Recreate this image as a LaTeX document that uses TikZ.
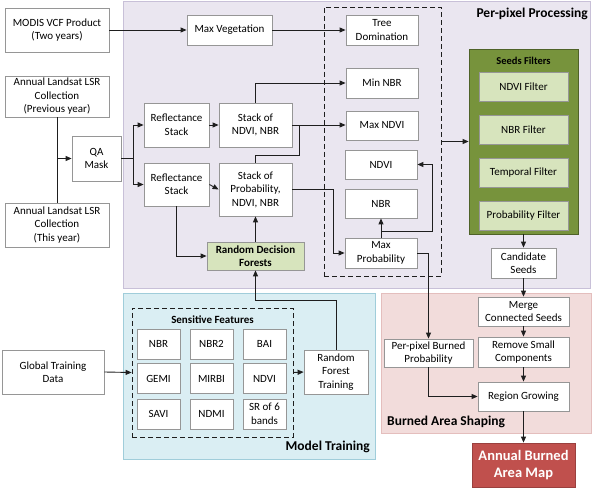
\documentclass[tikz,border=0pt]{standalone}
\usepackage{fontspec}
\setmainfont{Carlito}
\usetikzlibrary{arrows.meta}
\definecolor{ppfill}{RGB}{234,230,240}
\definecolor{ppdraw}{RGB}{200,192,216}
\definecolor{mtfill}{RGB}{218,238,243}
\definecolor{mtdraw}{RGB}{160,205,218}
\definecolor{bsfill}{RGB}{242,220,219}
\definecolor{bsdraw}{RGB}{228,190,189}
\definecolor{sfgreen}{RGB}{119,147,60}
\definecolor{sfdraw}{RGB}{79,98,40}
\definecolor{lgreen}{RGB}{215,228,189}
\definecolor{boxgray}{RGB}{150,150,150}
\definecolor{mapred}{RGB}{192,80,77}
\definecolor{linec}{RGB}{30,30,30}
\tikzset{
  txt/.style={font=\fontsize{11}{13.5}\selectfont},
  wbox/.style={draw=boxgray, fill=white, line width=0.8pt, inner sep=0pt, align=center, txt},
  gbox/.style={wbox, fill=lgreen},
  panel/.style={line width=0.8pt},
  dbox/.style={draw=linec, dashed, dash pattern=on 5pt off 3pt, line width=0.8pt, inner sep=0pt},
  arr/.style={draw=linec, line width=0.9pt, -{Triangle[length=6pt,width=5pt]}},
  ln/.style={draw=linec, line width=0.9pt},
  ptitle/.style={font=\fontsize{13.5}{15}\selectfont\bfseries, inner sep=0pt},
}
\begin{document}
\begin{tikzpicture}[x=1pt,y=-1pt]
\useasboundingbox (0,0) rectangle (592,489);
% panels
\draw[panel, fill=ppfill, draw=ppdraw] (123,1) rectangle (590,288);
\draw[panel, fill=mtfill, draw=mtdraw] (123,293) rectangle (375,459);
\draw[panel, fill=bsfill, draw=bsdraw] (381,293) rectangle (591,433);
\node[ptitle, anchor=east] (tpp) at (588,14) {Per-pixel Processing};
\node[ptitle, anchor=east] (tmt) at (370,447) {Model Training};
\node[ptitle, anchor=west] (tbs) at (387,422) {Burned Area Shaping};
% dashed groups
\node[dbox, minimum width=117pt, minimum height=269pt] (pp) at (382.5,141.5) {};
\node[dbox, minimum width=161pt, minimum height=129pt] (sens) at (212.5,372.5) {};
\node[font=\fontsize{11}{12}\selectfont\bfseries, inner sep=0pt] (senst) at (212.5,320) {Sensitive Features};
% left inputs
\node[wbox, minimum width=104pt, minimum height=44pt] (modis) at (57,30) {MODIS VCF Product\\(Two years)};
\node[wbox, minimum width=104pt, minimum height=41pt] (prev) at (57,96.5) {Annual Landsat LSR\\Collection\\(Previous year)};
\node[wbox, minimum width=49pt, minimum height=45pt] (qa) at (96.5,158.5) {QA\\Mask};
\node[wbox, minimum width=104pt, minimum height=44pt] (this) at (57,225) {Annual Landsat LSR\\Collection\\(This year)};
\node[wbox, minimum width=102pt, minimum height=44pt] (glob) at (53,372) {Global Training\\Data};
% per-pixel processing
\node[wbox, minimum width=85pt, minimum height=30pt] (maxveg) at (229.5,30) {Max Vegetation};
\node[wbox, minimum width=65pt, minimum height=44pt] (refl1) at (176.5,125) {Reflectance\\Stack};
\node[wbox, minimum width=73pt, minimum height=44pt] (stnn) at (255.5,125) {Stack of\\NDVI, NBR};
\node[wbox, minimum width=65pt, minimum height=43pt] (refl2) at (176.5,184.5) {Reflectance\\Stack};
\node[wbox, minimum width=73pt, minimum height=53pt] (stp) at (255.5,189.5) {Stack of\\Probability,\\NDVI, NBR};
\node[gbox, minimum width=97pt, minimum height=28pt, font=\fontsize{11}{13}\selectfont\bfseries] (rdf) at (255.5,256) {Random Decision\\Forests};
\node[wbox, minimum width=72pt, minimum height=30pt] (tree) at (382,30) {Tree\\Domination};
\node[wbox, minimum width=72pt, minimum height=30pt] (minnbr) at (382,83) {Min NBR};
\node[wbox, minimum width=72pt, minimum height=29pt] (maxndvi) at (382,125.5) {Max NDVI};
\node[wbox, minimum width=72pt, minimum height=29pt] (ndvi) at (381,164.5) {NDVI};
\node[wbox, minimum width=72pt, minimum height=29pt] (nbr) at (381,203.5) {NBR};
\node[wbox, minimum width=72pt, minimum height=30pt] (maxp) at (381,253) {Max\\Probability};
% seeds filters
\node[draw=sfdraw, fill=sfgreen, line width=0.8pt, minimum width=109pt, minimum height=185pt, inner sep=0pt] (seeds) at (523.5,141.5) {};
\node[font=\fontsize{10.5}{12}\selectfont\bfseries, inner sep=0pt] (seedst) at (523.5,61) {Seeds Filters};
\node[gbox, minimum width=89pt, minimum height=29pt] (f1) at (523.5,86.5) {NDVI Filter};
\node[gbox, minimum width=89pt, minimum height=29pt] (f2) at (523.5,129.5) {NBR Filter};
\node[gbox, minimum width=89pt, minimum height=29pt] (f3) at (523.5,172.5) {Temporal Filter};
\node[gbox, minimum width=89pt, minimum height=29pt] (f4) at (523.5,215.5) {Probability Filter};
\node[wbox, minimum width=65pt, minimum height=30pt] (cand) at (523.5,263) {Candidate\\Seeds};
% burned area shaping
\node[wbox, minimum width=91pt, minimum height=29pt] (merge) at (523.5,311.5) {Merge\\Connected Seeds};
\node[wbox, minimum width=91pt, minimum height=30pt] (remove) at (523.5,352) {Remove Small\\Components};
\node[wbox, minimum width=91pt, minimum height=29pt] (grow) at (523.5,396.5) {Region Growing};
\node[wbox, minimum width=89pt, minimum height=28pt] (perpix) at (428.5,353) {Per-pixel Burned\\Probability};
\node[draw=mapred!80!black, fill=mapred, line width=0.8pt, text=white, align=center, minimum width=103pt, minimum height=44pt, inner sep=0pt, font=\fontsize{14.5}{17}\selectfont\bfseries] (map) at (523.5,465) {Annual Burned\\Area Map};
% model training
\node[wbox, minimum width=43pt, minimum height=30pt] (s1) at (158.5,344) {NBR};
\node[wbox, minimum width=43pt, minimum height=30pt] (s2) at (211.5,344) {NBR2};
\node[wbox, minimum width=43pt, minimum height=30pt] (s3) at (264.5,344) {BAI};
\node[wbox, minimum width=43pt, minimum height=30pt] (s4) at (158.5,378.5) {GEMI};
\node[wbox, minimum width=43pt, minimum height=30pt] (s5) at (211.5,378.5) {MIRBI};
\node[wbox, minimum width=43pt, minimum height=30pt] (s6) at (264.5,378.5) {NDVI};
\node[wbox, minimum width=43pt, minimum height=30pt] (s7) at (158.5,414) {SAVI};
\node[wbox, minimum width=43pt, minimum height=30pt] (s8) at (211.5,414) {NDMI};
\node[wbox, minimum width=43pt, minimum height=30pt] (s9) at (264.5,414) {SR of 6\\bands};
\node[wbox, minimum width=64pt, minimum height=44pt] (rft) at (336,372) {Random\\Forest\\Training};
% connectors
\draw[arr] (modis.east) -- (maxveg.west);
\draw[arr] (maxveg.east) -- (tree.west);
\draw[ln] (prev.south) -- (this.north);
\draw[arr] (prev.south |- qa.west) -- (qa.west);
\coordinate (qs) at (133,158.5);
\draw[ln] (qa.east) -- (qs);
\draw[arr] (qs) |- (refl1.west);
\draw[arr] (qs) |- (refl2.west);
\draw[arr] (refl1.east) -- (stnn.west);
\draw[arr] (refl2.east) -- (stp.west);
\draw[arr] (stnn.north) |- (minnbr.west);
\draw[arr] (stnn.east) -- (stnn.east -| maxndvi.west);
\coordinate (j1) at (299,125);
\draw[ln] (stp.north) -- (255.5,155) -| (j1);
\draw[arr] (stp.east) -- (333,189.5) |- (maxp.west);
\draw[arr] (maxp.north) -- (nbr.south);
\draw[arr] (381,231) -| (432,164.5) -- (ndvi.east);
\draw[arr] (maxp.east) -| (perpix.north);
\draw[arr] (refl2.south) |- (rdf.west);
\draw[arr] (rdf.north) -- (stp.south);
\draw[arr] (rft.north) -- (336,300) -| (rdf.south);
\draw[arr] (glob.east) -- (sens.west);
\draw[arr] (sens.east) -- (rft.west);
\draw[arr] (pp.east) -- (seeds.west);
\draw[arr] (seeds.south) -- (cand.north);
\draw[arr] (cand.south) -- (merge.north);
\draw[arr] (merge.south) -- (remove.north);
\draw[arr] (remove.south) -- (grow.north);
\draw[arr] (perpix.south) |- (grow.west);
\draw[arr] (grow.south) -- (map.north);
\end{tikzpicture}
\end{document}
